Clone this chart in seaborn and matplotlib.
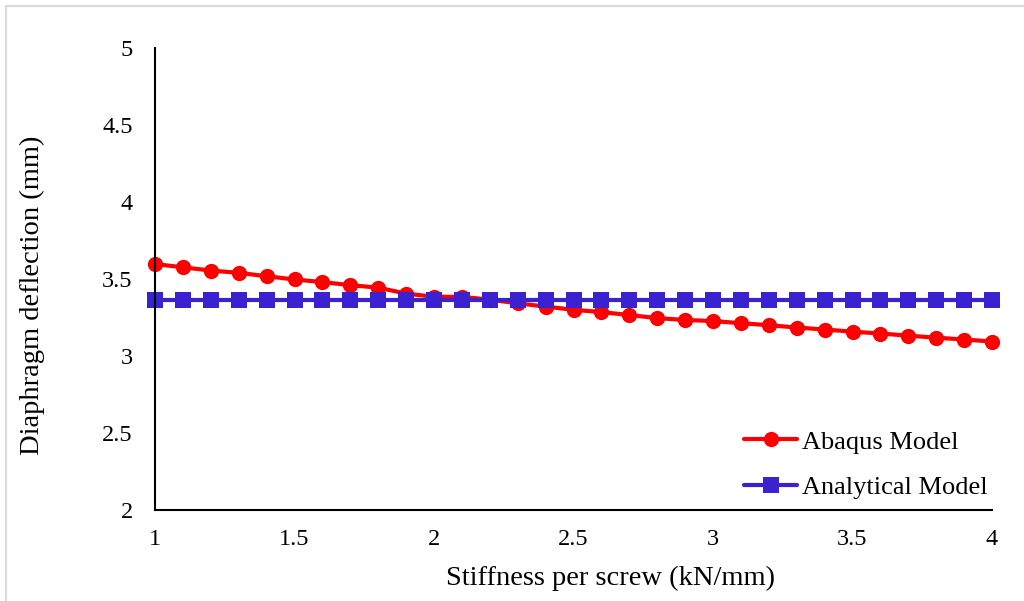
import matplotlib
matplotlib.use("Agg")
import matplotlib.pyplot as plt
import matplotlib.patches as mpatches
import seaborn as sns
import pandas as pd
import numpy as np

stiffness = [1.0, 1.1, 1.2, 1.3, 1.4, 1.5, 1.6, 1.7, 1.8, 1.9, 2.0,
             2.1, 2.2, 2.3, 2.4, 2.5, 2.6, 2.7, 2.8, 2.9, 3.0,
             3.1, 3.2, 3.3, 3.4, 3.5, 3.6, 3.7, 3.8, 3.9, 4.0]
abaqus = [3.597, 3.576, 3.555, 3.540, 3.518, 3.497, 3.480, 3.460, 3.444, 3.405, 3.385,
          3.384, 3.366, 3.342, 3.321, 3.300, 3.285, 3.266, 3.246, 3.234, 3.227,
          3.213, 3.200, 3.185, 3.172, 3.158, 3.146, 3.132, 3.119, 3.107, 3.094]
analytical = [3.365] * len(stiffness)
series_names = ["Abaqus Model", "Analytical Model"]
x_ticks = [1, 1.5, 2, 2.5, 3, 3.5, 4]
y_ticks = [2, 2.5, 3, 3.5, 4, 4.5, 5]

df = pd.DataFrame({
    "x": stiffness * 2,
    "y": abaqus + analytical,
    "series": [series_names[0]] * len(stiffness) + [series_names[1]] * len(stiffness),
})

sns.set_theme(style="white")
plt.rcParams["font.family"] = ["Liberation Serif", "DejaVu Serif"]
plt.rcParams["text.color"] = "black"
plt.rcParams["axes.labelcolor"] = "black"
plt.rcParams["xtick.color"] = "black"
plt.rcParams["ytick.color"] = "black"

fig = plt.figure(figsize=(10.24, 6.01), dpi=100)
ax = fig.add_axes([155/1024, 1 - 510/601, (992-155)/1024, (510-48)/601])

# outer chart border
fig.patches.append(mpatches.Rectangle((6/1024, -0.05), 1.1, 1 - 6/601 + 0.05,
                                      transform=fig.transFigure, fill=False,
                                      edgecolor="#d9d9d9", linewidth=1.5))

palette = {series_names[0]: "#ff0000", series_names[1]: "#3a22d0"}
sns.lineplot(data=df, x="x", y="y", hue="series", style="series",
             markers={series_names[0]: "o", series_names[1]: "s"},
             dashes=False, palette=palette, linewidth=3, markersize=11,
             markeredgewidth=0, ax=ax, clip_on=False)

ax.set_xlim(1, 4)
ax.set_ylim(2, 5)
ax.set_xticks(x_ticks)
ax.set_xticklabels([f"{t:g}" for t in x_ticks], fontsize=17.5)
ax.set_yticks(y_ticks)
ax.set_yticklabels([f"{t:g}" for t in y_ticks], fontsize=17.5)
ax.tick_params(axis="x", length=0, pad=13.5)
ax.tick_params(axis="y", length=0, pad=16)
for s in ["top", "right"]:
    ax.spines[s].set_visible(False)
for s in ["left", "bottom"]:
    ax.spines[s].set_color("black")
    ax.spines[s].set_linewidth(1.5)
ax.set_xlabel("Stiffness per screw (kN/mm)", fontsize=20.5)
ax.xaxis.set_label_coords((611 - 155) / 837, (510 - 578) / 462)
ax.xaxis.label.set_verticalalignment("center")
ax.set_ylabel("Diaphragm deflection (mm)", fontsize=20.5)
ax.yaxis.set_label_coords((32 - 155) / 837, (510 - 295) / 462)
ax.yaxis.label.set_verticalalignment("center")

leg = ax.legend(loc="lower right", frameon=False, fontsize=19,
                handlelength=2.0, labelspacing=0.84, handletextpad=0.2,
                borderaxespad=0.2, bbox_to_anchor=(1.014, -0.011))

fig.savefig("out.png", dpi=100)
